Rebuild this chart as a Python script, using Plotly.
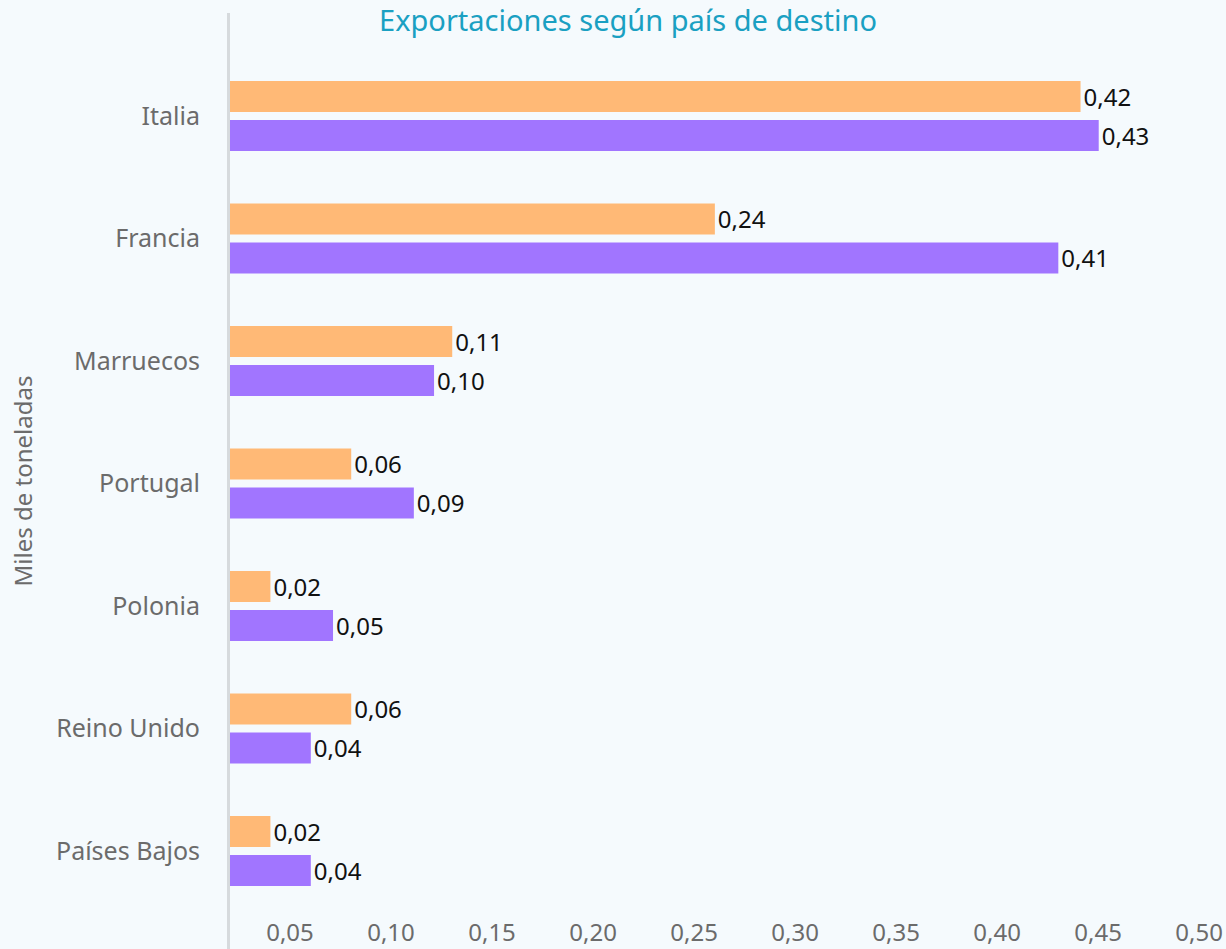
import plotly.graph_objects as go

# ---- data ----
categories = ["Italia", "Francia", "Marruecos", "Portugal", "Polonia", "Reino Unido", "Países Bajos"]
serie_a = [0.421, 0.240, 0.110, 0.060, 0.020, 0.060, 0.020]   # orange
serie_b = [0.430, 0.410, 0.101, 0.091, 0.051, 0.040, 0.040]   # purple
tick_values = [0.05, 0.10, 0.15, 0.20, 0.25, 0.30, 0.35, 0.40, 0.45, 0.50]
tick_labels = [f"{v:.2f}".replace(".", ",") for v in tick_values]

# ---- style ----
FONT = "Noto Sans, Open Sans, sans-serif"
BG = "#f5fafd"
ORANGE = "#ffb976"
PURPLE = "#a175ff"
GRAY_TXT = "#6b6b6b"
LABEL_SHIFT = 0.0203  # horizontal offset of tick labels, as in the reference

fig = go.Figure()
for vals, col, name in [(serie_a, ORANGE, "Serie A"), (serie_b, PURPLE, "Serie B")]:
    fig.add_trace(go.Bar(
        y=categories, x=vals, orientation="h", name=name,
        marker=dict(color=col, line=dict(width=0)),
        text=vals, texttemplate="%{x:.2f}", textposition="outside",
        constraintext="none",
        textfont=dict(family=FONT, size=24, color="#111111"),
        cliponaxis=False, showlegend=False,
    ))

fig.update_layout(
    width=1226, height=949,
    paper_bgcolor=BG, plot_bgcolor=BG,
    margin=dict(l=230, r=0, t=13, b=0),
    separators=",.",
    barmode="group", bargap=0.363, bargroupgap=0.205,
    font=dict(family=FONT, color=GRAY_TXT),
    title=dict(text="Exportaciones según país de destino",
               font=dict(family=FONT, size=29, color="#1aa0c2"),
               x=628 / 1226, xanchor="center", xref="container",
               y=1 - 21 / 949, yref="container", yanchor="middle"),
)

fig.update_xaxes(
    range=[0, 0.493],
    tickvals=[v - LABEL_SHIFT for v in tick_values], ticktext=tick_labels,
    ticklabelposition="inside", ticks="",
    tickfont=dict(family=FONT, size=24, color=GRAY_TXT),
    showgrid=False, zeroline=False, showline=False,
)

fig.update_yaxes(
    categoryorder="array", categoryarray=categories,
    range=[6.80, -0.84],
    tickfont=dict(family=FONT, size=25, color=GRAY_TXT),
    ticks="", ticklabelstandoff=22,
    showgrid=False, zeroline=False,
    showline=True, linecolor="#d6dadd", linewidth=3,
    title=dict(text="Miles de toneladas", standoff=17,
               font=dict(family=FONT, size=24, color=GRAY_TXT)),
)

fig.write_html(
    "out.html",
    config={"displayModeBar": False},
    post_script="document.body.style.margin='0';document.body.style.background='%s';" % BG,
)
